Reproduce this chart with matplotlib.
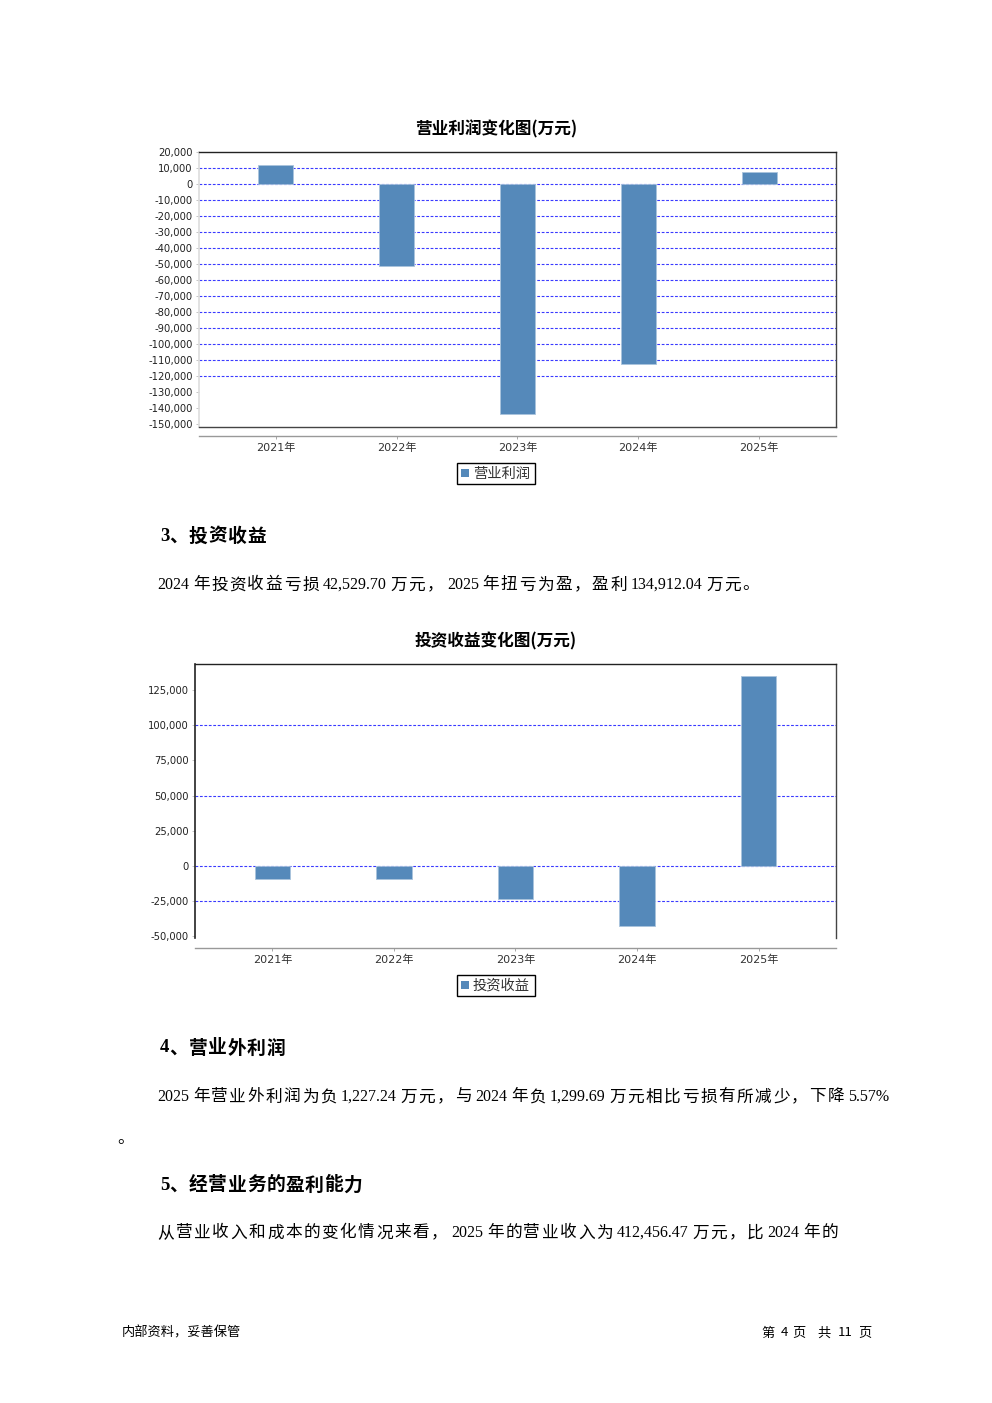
import matplotlib
matplotlib.use("Agg")
import matplotlib.pyplot as plt
from matplotlib.lines import Line2D
from matplotlib.patches import Rectangle
from matplotlib.ticker import FuncFormatter

# ---------------- data ----------------
years = ["2021年", "2022年", "2023年", "2024年", "2025年"]
op_profit = [12000, -51000, -143700, -112500, 7500]
inv_income = [-9000, -9500, -23400, -42529.70, 134912.04]

title1 = "营业利润变化图(万元)"
title2 = "投资收益变化图(万元)"
legend1 = "营业利润"
legend2 = "投资收益"

ticks1 = list(range(20000, -150001, -10000))
grid1 = list(range(10000, -120001, -10000))
ticks2 = [125000, 100000, 75000, 50000, 25000, 0, -25000, -50000]
grid2 = [100000, 50000, 0, -25000]

W, H = 992, 1403
BAR = "#5589BA"
GRID = "#3a3aff"
CJK = ["Noto Sans CJK SC", "DejaVu Sans"]
SERIF = ["Liberation Serif", "Noto Sans CJK SC"]
plt.rcParams["font.family"] = ["DejaVu Sans", "Noto Sans CJK SC"]

fig = plt.figure(figsize=(W / 100, H / 100), dpi=100)
fig.patch.set_facecolor("white")
renderer = fig.canvas.get_renderer()


def px_axes(left, top, right, bottom):
    return fig.add_axes([left / W, 1 - bottom / H, (right - left) / W, (bottom - top) / H])


def fx(x):
    return x / W


def fy(y):
    return 1 - y / H


fmt = FuncFormatter(lambda v, p: f"{int(v):,}")


def bar_chart(ax, values, ylim, ticks, grids, left_color, cat_offset_px, draw_bottom_frame):
    x = list(range(len(years)))
    ax.set_xlim(-0.637, len(years) - 1 + 0.637)
    ax.set_ylim(*ylim)
    for g in grids:
        ax.axhline(g, color=GRID, lw=0.8, ls=(0, (2.5, 1.5)), zorder=1)
    ax.bar(x, values, width=0.29, color=BAR, edgecolor="#a9c3dd", linewidth=0.6, zorder=2)
    ax.set_yticks(ticks)
    ax.yaxis.set_major_formatter(fmt)
    ax.tick_params(axis="y", labelsize=7.2, length=2.5, width=0.6, color="#bbbbbb",
                   pad=2, labelcolor="#222222")
    ax.set_xticks(x)
    ax.set_xticklabels(years)
    ax.tick_params(axis="x", labelsize=8, length=2.5, width=0.6, color="#999999",
                   pad=2.5, labelcolor="#333333")
    ax.spines["top"].set_color("#222222")
    ax.spines["right"].set_color("#444444")
    ax.spines["left"].set_color(left_color)
    ax.spines["left"].set_linewidth(1.2)
    ax.spines["top"].set_linewidth(1.0)
    ax.spines["right"].set_linewidth(1.0)
    ax.spines["bottom"].set_position(("outward", cat_offset_px * 0.72))
    ax.spines["bottom"].set_color("#999999")
    ax.spines["bottom"].set_linewidth(1.0)
    if draw_bottom_frame:
        ax.add_line(Line2D([0, 1], [0, 0], transform=ax.transAxes, color="#444444",
                           lw=1.0, clip_on=False, zorder=3))


# ---------------- chart 1 ----------------
ax1 = px_axes(199, 152, 836, 427)
bar_chart(ax1, op_profit, (-151875, 20000), ticks1, grid1, "#dddddd", 9, True)
fig.text(fx(496), fy(129), title1, ha="center", va="center", fontsize=12,
         fontweight="bold", family=CJK)

# ---------------- chart 2 ----------------
ax2 = px_axes(195, 664, 836, 938)
bar_chart(ax2, inv_income, (-51136, 143470), ticks2, grid2, "#222222", 10, False)
fig.text(fx(496), fy(641), title2, ha="center", va="center", fontsize=12,
         fontweight="bold", family=CJK)


def legend_box(top, label):
    fig.patches.append(Rectangle((fx(457), fy(top + 21)), fx(78), 21 / H, transform=fig.transFigure,
                                 facecolor="white", edgecolor="black", lw=1.0))
    fig.patches.append(Rectangle((fx(461), fy(top + 14)), fx(8), 8 / H, transform=fig.transFigure,
                                 facecolor=BAR, edgecolor="none"))
    fig.text(fx(473), fy(top + 10.5), label, ha="left", va="center", fontsize=10.3,
             family=CJK, color="#333333")


legend_box(463, legend1)
legend_box(975, legend2)


# ---------------- document text ----------------
def layout(x, y, s, size, pitch, gap, weight="normal", cjk_size=None):
    """Lay out mixed CJK / Latin text: CJK chars on a fixed pitch, Latin runs at natural width."""
    cjk_size = cjk_size or size
    tokens = []
    buf = ""
    for ch in s:
        if ord(ch) < 128:
            buf += ch
        else:
            if buf:
                tokens.append(("a", buf))
                buf = ""
            tokens.append(("c", ch))
    if buf:
        tokens.append(("a", buf))
    prev = None
    for kind, tok in tokens:
        if prev is not None and prev != kind:
            x += gap
        if kind == "a":
            t = fig.text(fx(x), fy(y), tok, ha="left", va="center", fontsize=size,
                         family=SERIF, fontweight=weight, color="black")
            x += t.get_window_extent(renderer).width
        else:
            fig.text(fx(x + pitch / 2), fy(y), tok, ha="center", va="center", fontsize=cjk_size,
                     family=CJK, fontweight=weight, color="black")
            x += pitch
        prev = kind


def heading(x, y, s):
    layout(x, y, s, 13.5, 19.3, 0, weight="bold")


def para(x, y, s):
    layout(x, y, s, 11.5, 18.2, 3, cjk_size=12)


heading(160, 536, "3、投资收益")
para(157, 585, "2024年投资收益亏损42,529.70万元，2025年扭亏为盈，盈利134,912.04万元。")
heading(160, 1048, "4、营业外利润")
para(157, 1097, "2025年营业外利润为负1,227.24万元，与2024年负1,299.69万元相比亏损有所减少，下降5.57%")
para(116, 1138, "。")
heading(160, 1185, "5、经营业务的盈利能力")
para(157, 1233, "从营业收入和成本的变化情况来看，2025年的营业收入为412,456.47万元，比2024年的")

fig.text(fx(122), fy(1333), "内部资料，妥善保管", ha="left", va="center", fontsize=9.5,
         family=CJK)
for xp, s in [(761, "第"), (781, "4"), (792, "页"), (817, "共"), (838, "11"), (858, "页")]:
    fig.text(fx(xp), fy(1333), s, ha="left", va="center", fontsize=9.5, family=CJK)

fig.savefig("out.png", dpi=100, facecolor="white")
